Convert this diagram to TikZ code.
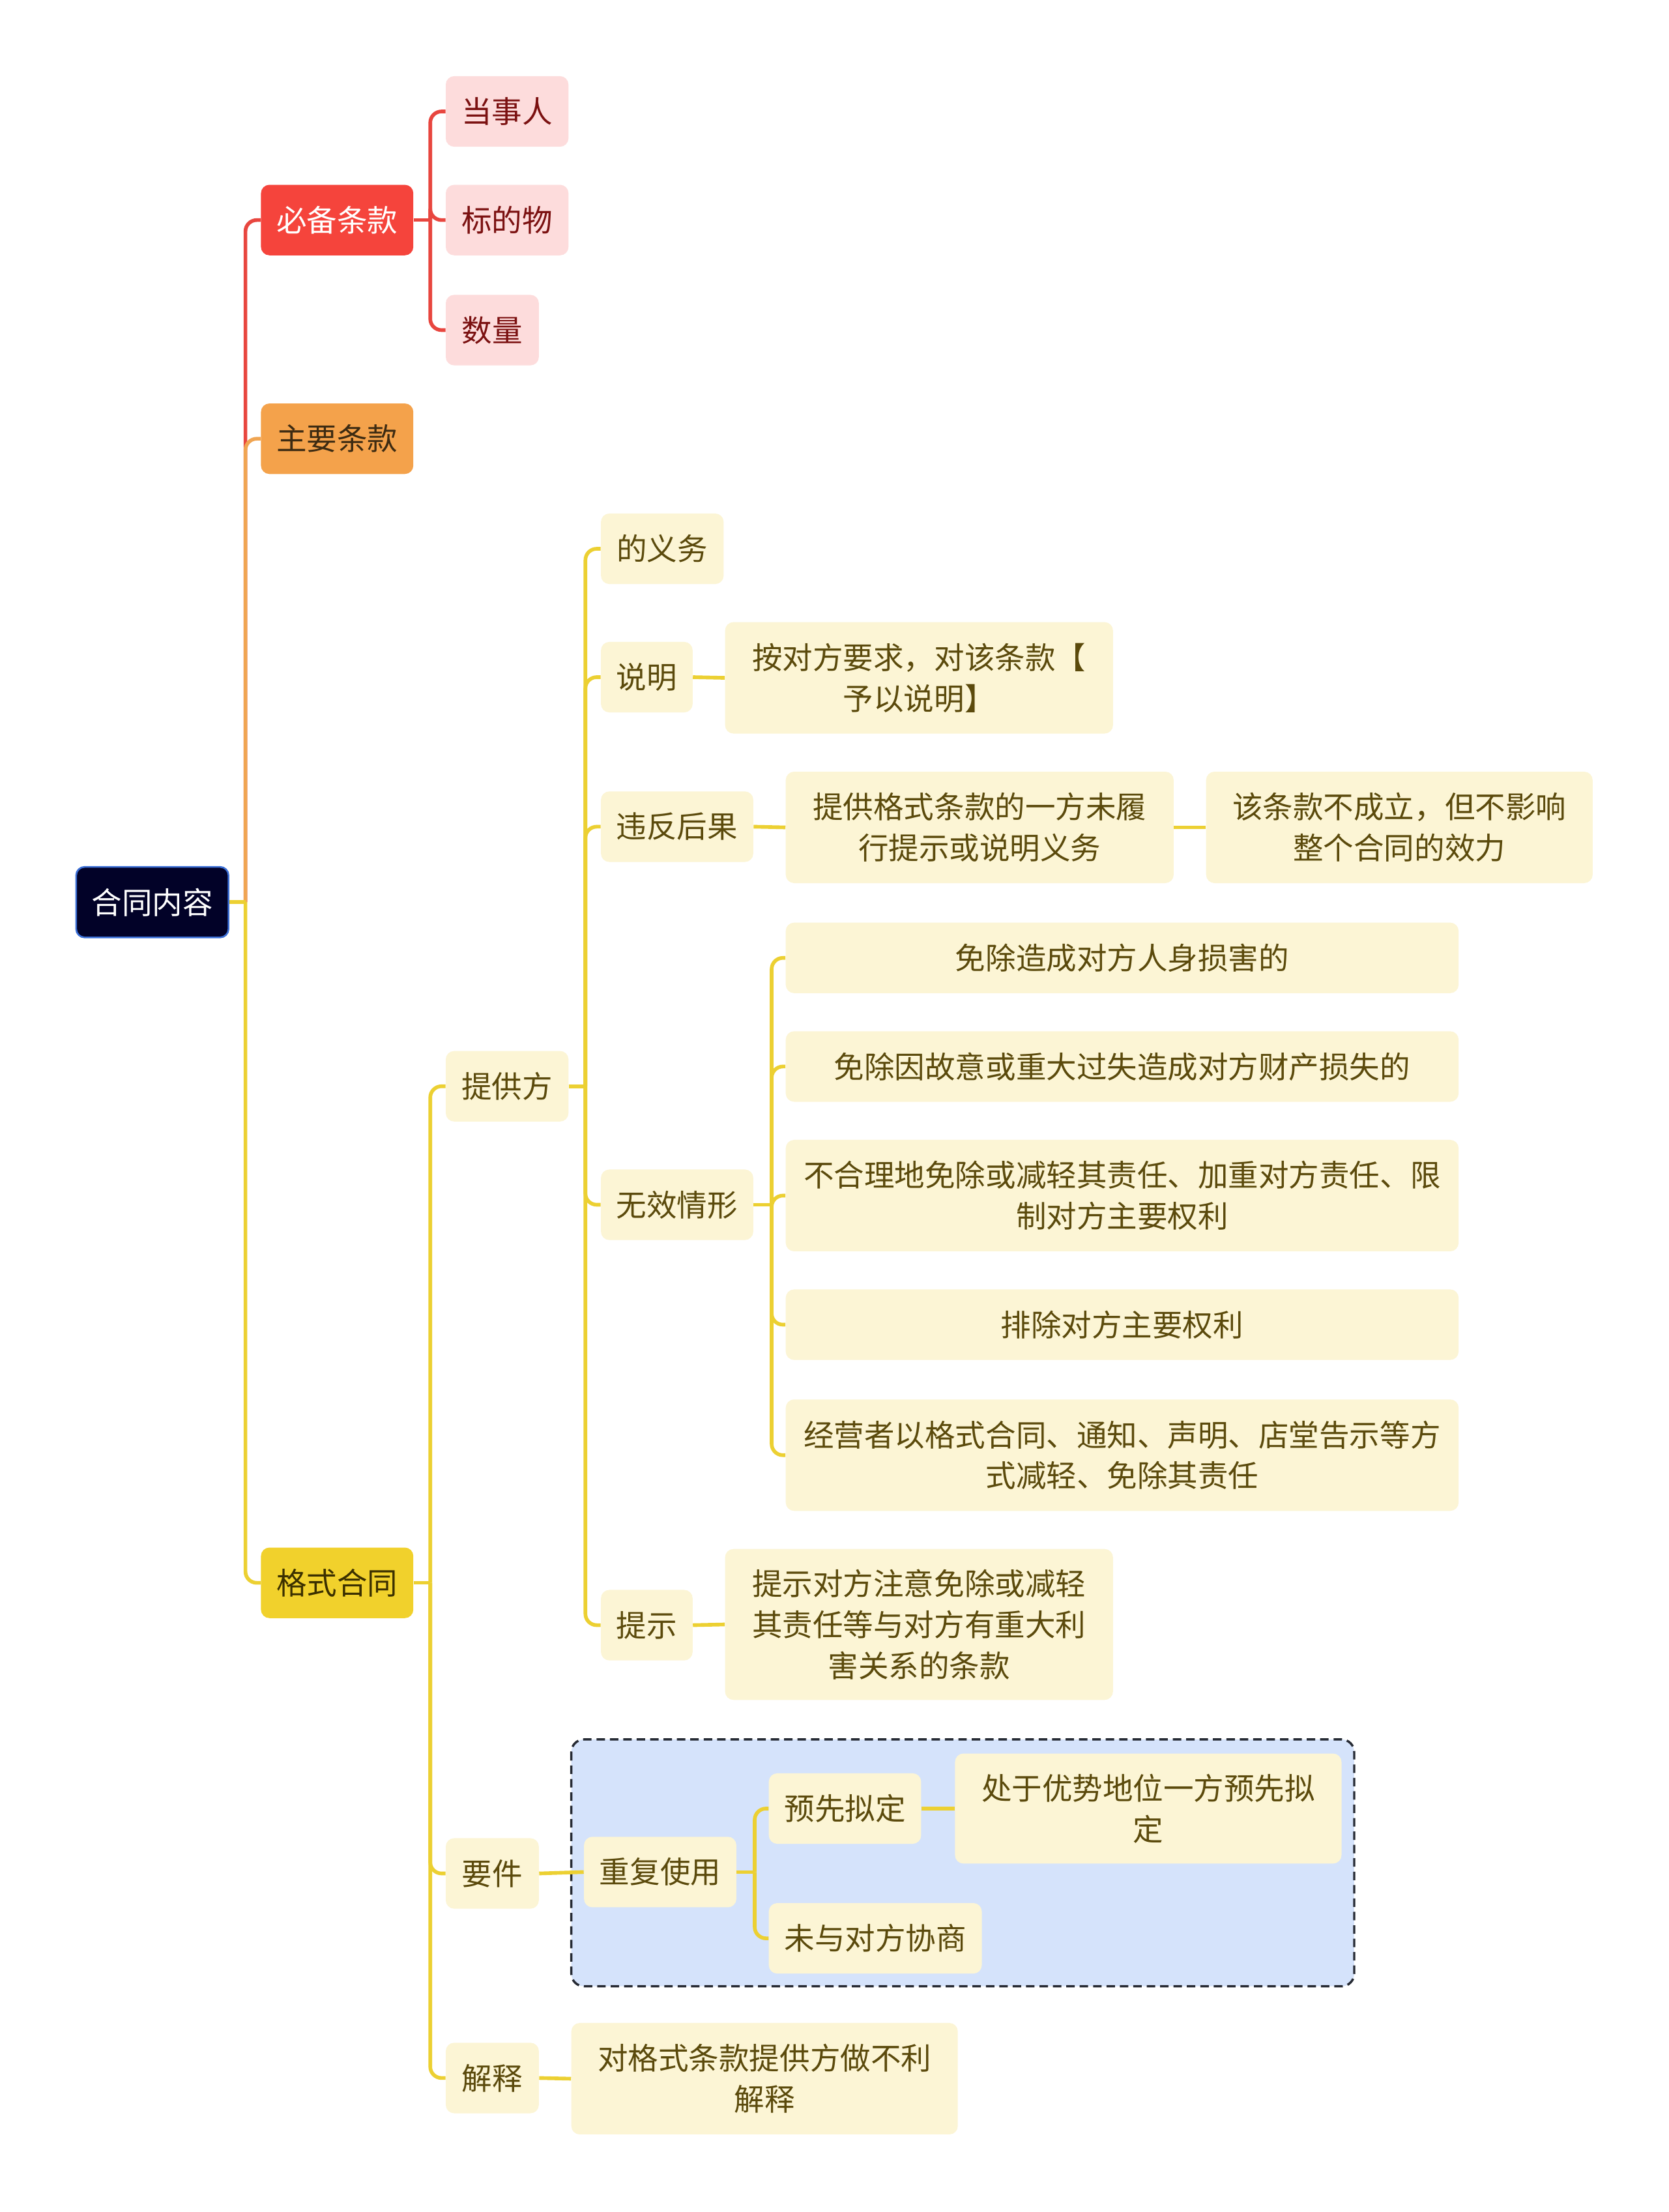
\documentclass[tikz,border=0pt]{standalone}
\usepackage{fontspec}
\newfontfamily\cjk{Noto Sans CJK SC}
\definecolor{rootfill}{HTML}{020228}
\definecolor{rootdraw}{HTML}{3B6FD6}
\definecolor{redfill}{HTML}{F5443C}
\definecolor{redline}{HTML}{E8463F}
\definecolor{orfill}{HTML}{F4A24B}
\definecolor{orline}{HTML}{F0A552}
\definecolor{yefill}{HTML}{F1D12C}
\definecolor{yeline}{HTML}{ECD032}
\definecolor{pinkfill}{HTML}{FDDCDC}
\definecolor{pinktext}{HTML}{7B1111}
\definecolor{creamfill}{HTML}{FCF5D5}
\definecolor{creamtext}{HTML}{5B4A0C}
\definecolor{bluefill}{HTML}{D5E3FB}
\definecolor{dashdraw}{HTML}{262A33}
\tikzset{
  base/.style={rounded corners=6pt, inner sep=0pt, align=center,
    font=\cjk\fontsize{21.5}{29}\selectfont, minimum height=50pt},
  rootbox/.style={base, fill=rootfill, draw=rootdraw, line width=1.2pt, text=white},
  redbox/.style={base, fill=redfill, text=white},
  orbox/.style={base, fill=orfill, text={rgb,255:red,61;green,43;blue,18}},
  yebox/.style={base, fill=yefill, text={rgb,255:red,59;green,48;blue,0}},
  pinkbox/.style={base, fill=pinkfill, text=pinktext},
  creambox/.style={base, fill=creamfill, text=creamtext},
  conn/.style={line width=2.6pt, rounded corners=8pt},
  groupbox/.style={fill=bluefill, draw=dashdraw, line width=1.6pt,
    dash pattern=on 6pt off 3.5pt, rounded corners=9pt},
}
\begin{document}
\begin{tikzpicture}[x=1pt,y=-1pt]
\useasboundingbox (0,0) rectangle (1183,1568);
\fill[white] (0,0) rectangle (1183,1568);

% dashed group
\draw[groupbox] (405,1233) rectangle (960,1408);

% nodes
\node[rootbox, minimum width=108pt] (root) at (108,639.5) {合同内容};
\node[redbox, minimum width=108pt] (bbtk) at (239,156) {必备条款};
\node[orbox, minimum width=108pt] (zytk) at (239,311) {主要条款};
\node[yebox, minimum width=108pt] (gsht) at (239,1122) {格式合同};

\node[pinkbox, minimum width=87pt] (dsr) at (359.5,79) {当事人};
\node[pinkbox, minimum width=87pt] (bdw) at (359.5,156) {标的物};
\node[pinkbox, minimum width=66pt] (sl) at (349,234) {数量};

\node[creambox, minimum width=87pt] (tgf) at (359.5,770) {提供方};
\node[creambox, minimum width=66pt] (yj) at (349,1328) {要件};
\node[creambox, minimum width=66pt] (js) at (349,1473) {解释};

\node[creambox, minimum width=87pt] (dyw) at (469.5,389) {的义务};
\node[creambox, minimum width=65pt] (sm) at (458.5,480) {说明};
\node[creambox, minimum width=275pt, minimum height=79pt] (adf) at (651.5,480.5) {按对方要求，对该条款【\\予以说明】};
\node[creambox, minimum width=108pt] (wfhg) at (480,586) {违反后果};
\node[creambox, minimum width=275pt, minimum height=79pt] (tggs) at (694.5,586.5) {提供格式条款的一方未履\\行提示或说明义务};
\node[creambox, minimum width=274pt, minimum height=79pt] (gtk) at (992,586.5) {该条款不成立，但不影响\\整个合同的效力};
\node[creambox, minimum width=108pt] (wxqx) at (480,854) {无效情形};
\node[creambox, minimum width=477pt] (w1) at (795.5,679) {免除造成对方人身损害的};
\node[creambox, minimum width=477pt] (w2) at (795.5,756) {免除因故意或重大过失造成对方财产损失的};
\node[creambox, minimum width=477pt, minimum height=79pt] (w3) at (795.5,847.5) {不合理地免除或减轻其责任、加重对方责任、限\\制对方主要权利};
\node[creambox, minimum width=477pt] (w4) at (795.5,939) {排除对方主要权利};
\node[creambox, minimum width=477pt, minimum height=79pt] (w5) at (795.5,1031.5) {经营者以格式合同、通知、声明、店堂告示等方\\式减轻、免除其责任};
\node[creambox, minimum width=65pt] (ts) at (458.5,1152) {提示};
\node[creambox, minimum width=275pt, minimum height=107pt] (tsdf) at (651.5,1151.5) {提示对方注意免除或减轻\\其责任等与对方有重大利\\害关系的条款};

\node[creambox, minimum width=108pt] (cfsy) at (468,1327) {重复使用};
\node[creambox, minimum width=108pt] (yxnd) at (599,1282) {预先拟定};
\node[creambox, minimum width=274pt, minimum height=78pt] (cyys) at (814,1282) {处于优势地位一方预先拟\\定};
\node[creambox, minimum width=151pt] (wydf) at (620.5,1374) {未与对方协商};
\node[creambox, minimum width=274pt, minimum height=79pt] (dgs) at (542,1473.5) {对格式条款提供方做不利\\解释};

% junctions
\coordinate (j0) at (174,639.5);
\coordinate (j1) at (305,156);
\coordinate (j2) at (305,1122);
\coordinate (j3) at (415,770);
\coordinate (j4) at (547,854);
\coordinate (j5) at (535,1327);

% connectors level 1
\draw[conn, redline] (j0) |- (bbtk.west);
\draw[conn, orline] (j0) |- (zytk.west);
\draw[conn, yeline] (j0) |- (gsht.west);
\draw[conn, yeline] (root.east) -- (j0);

% 必备条款
\draw[conn, redline] (bbtk.east) -- (j1);
\draw[conn, redline] (j1) |- (dsr.west);
\draw[conn, redline] (j1) |- (bdw.west);
\draw[conn, redline] (j1) |- (sl.west);

% 格式合同
\draw[conn, yeline] (gsht.east) -- (j2);
\draw[conn, yeline] (j2) |- (tgf.west);
\draw[conn, yeline] (j2) |- (yj.west);
\draw[conn, yeline] (j2) |- (js.west);

% 提供方
\draw[conn, yeline] (tgf.east) -- (j3);
\draw[conn, yeline] (j3) |- (dyw.west);
\draw[conn, yeline] (j3) |- (sm.west);
\draw[conn, yeline] (j3) |- (wfhg.west);
\draw[conn, yeline] (j3) |- (wxqx.west);
\draw[conn, yeline] (j3) |- (ts.west);

\draw[conn, yeline] (sm.east) -- (adf.west);
\draw[conn, yeline] (wfhg.east) -- (tggs.west);
\draw[conn, yeline] (tggs.east) -- (gtk.west);
\draw[conn, yeline] (ts.east) -- (tsdf.west);

% 无效情形
\draw[conn, yeline] (wxqx.east) -- (j4);
\draw[conn, yeline] (j4) |- (w1.west);
\draw[conn, yeline] (j4) |- (w2.west);
\draw[conn, yeline] (j4) |- (w3.west);
\draw[conn, yeline] (j4) |- (w4.west);
\draw[conn, yeline] (j4) |- (w5.west);

% 要件
\draw[conn, yeline] (yj.east) -- (cfsy.west);
\draw[conn, yeline] (cfsy.east) -- (j5);
\draw[conn, yeline] (j5) |- (yxnd.west);
\draw[conn, yeline] (j5) |- (wydf.west);
\draw[conn, yeline] (yxnd.east) -- (cyys.west);

% 解释
\draw[conn, yeline] (js.east) -- (dgs.west);
\end{tikzpicture}
\end{document}
